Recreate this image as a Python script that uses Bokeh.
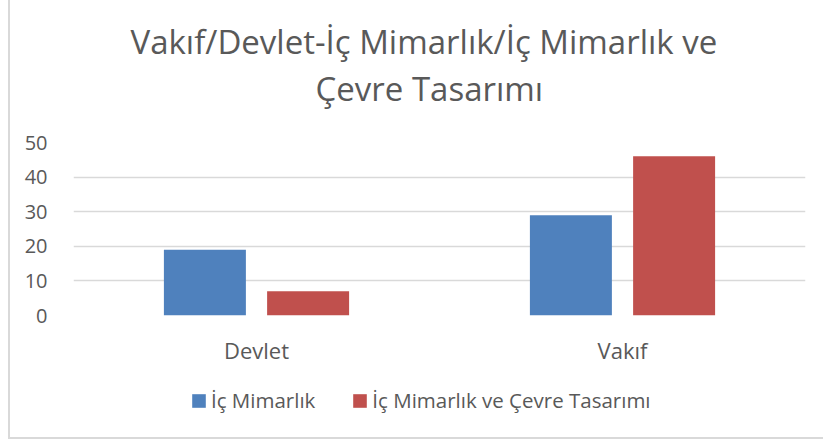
from bokeh.plotting import figure
from bokeh.layouts import column
from bokeh.models import FactorRange, Range1d, FixedTicker, Legend, LegendItem, Title
from bokeh.transform import dodge
from bokeh.embed import file_html
from bokeh.resources import INLINE

categories = ["Devlet", "Vakıf"]
series_names = ["İç Mimarlık", "İç Mimarlık ve Çevre Tasarımı"]
ic_mimarlik = [19, 29]
ic_mimarlik_cevre = [7, 46]
y_ticks = [0, 10, 20, 30, 40, 50]
title_lines = ["Vakıf/Devlet-İç Mimarlık/İç Mimarlık ve", "Çevre Tasarımı"]

FONT = "Open Sans"
TXT = "#595959"
BLUE = "#4F81BD"
RED = "#C0504D"

p = figure(
    title=None,
    x_range=FactorRange(*categories, range_padding=0),
    y_range=Range1d(0, 50),
    frame_width=732, frame_height=173,
    output_backend="svg", toolbar_location=None,
    min_border_left=63, min_border_right=20,
    min_border_top=142, min_border_bottom=60,
    outline_line_color=None,
)

src = dict(x=categories, a=ic_mimarlik, b=ic_mimarlik_cevre)
r1 = p.vbar(x=dodge("x", -0.141, range=p.x_range), top="a", width=0.224,
            source=src, fill_color=BLUE, line_color=None)
r2 = p.vbar(x=dodge("x", 0.141, range=p.x_range), top="b", width=0.224,
            source=src, fill_color=RED, line_color=None)

# title lines (first added is closest to the frame); a blank title acts as a gap
gap = Title(text=" ", text_font=FONT, text_font_size="10px", standoff=16)
t2 = Title(text=title_lines[1], align="left", offset=242, text_font=FONT,
           text_font_size="33px", text_font_style="normal", text_color=TXT, standoff=0)
t1 = Title(text=title_lines[0], align="left", offset=57, text_font=FONT,
           text_font_size="33px", text_font_style="normal", text_color=TXT, standoff=0)
p.add_layout(gap, "above")
p.add_layout(t2, "above")
p.add_layout(t1, "above")

p.yaxis.ticker = FixedTicker(ticks=y_ticks)
p.yaxis.axis_line_color = None
p.yaxis.major_tick_line_color = None
p.yaxis.minor_tick_line_color = None
p.yaxis.major_label_text_font = FONT
p.yaxis.major_label_text_font_size = "20px"
p.yaxis.major_label_text_color = TXT
p.yaxis.major_label_standoff = 20

p.xaxis.axis_line_color = None
p.xaxis.major_tick_line_color = None
p.xaxis.major_label_text_font = FONT
p.xaxis.major_label_text_font_size = "22px"
p.xaxis.major_label_text_color = TXT
p.xaxis.major_label_standoff = 13

p.xgrid.grid_line_color = None
p.ygrid.grid_line_color = "#d9d9d9"
p.ygrid.grid_line_width = 1.5

# legend strip below the chart (off-range renderers carry the series colours)
lg = figure(
    title=None, width=815, height=62,
    x_range=Range1d(0, 1), y_range=Range1d(0, 1),
    x_axis_location=None, y_axis_location=None,
    output_backend="svg", toolbar_location=None,
    min_border_left=0, min_border_right=0, min_border_top=0, min_border_bottom=0,
    outline_line_color=None,
)
lg.grid.visible = False
lr1 = lg.vbar(x=[-5], top=[-5], width=0.1, fill_color=BLUE, line_color=None)
lr2 = lg.vbar(x=[-5], top=[-5], width=0.1, fill_color=RED, line_color=None)
legend = Legend(
    items=[LegendItem(label=series_names[0], renderers=[lr1]),
           LegendItem(label=series_names[1], renderers=[lr2])],
    orientation="horizontal", location=(117, 23),
    label_text_font=FONT, label_text_font_size="20.5px", label_text_color=TXT,
    glyph_width=17, glyph_height=17, label_standoff=4, spacing=36,
    border_line_color=None, background_fill_alpha=0, margin=0, padding=0,
)
lg.add_layout(legend, "center")

layout = column(p, lg, spacing=0)
layout.styles = {"margin-left": "8px", "border-left": "2px solid #d9d9d9",
                 "border-bottom": "2px solid #d9d9d9"}

open("out.html", "w").write(file_html(layout, INLINE))
